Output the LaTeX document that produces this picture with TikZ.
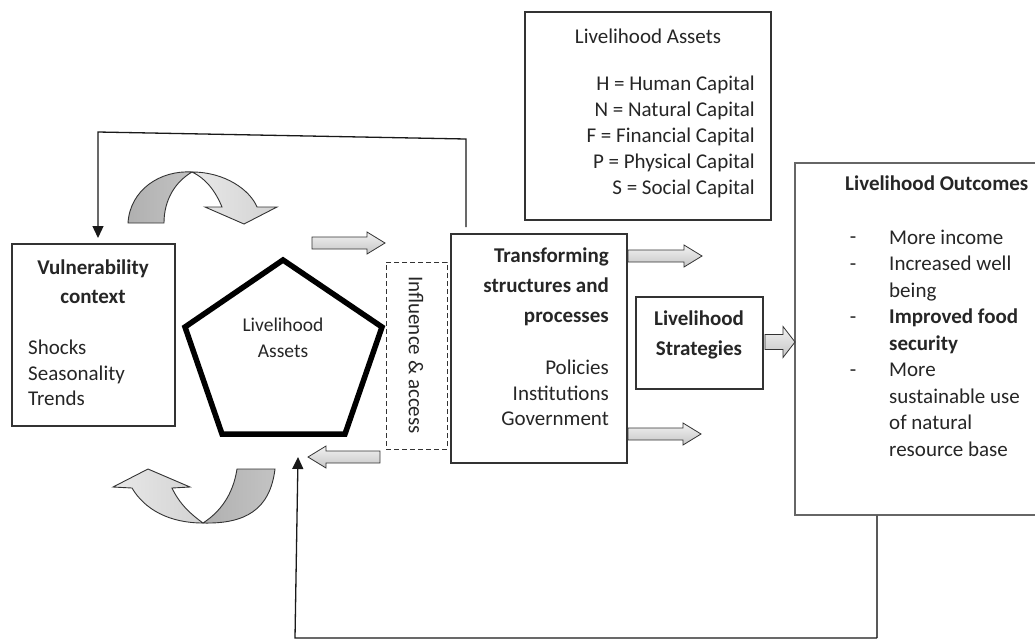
\documentclass[tikz,border=0pt]{standalone}
\usepackage{fontspec}
\setmainfont{Carlito}
\usetikzlibrary{arrows.meta}
\tikzset{
  box/.style={draw=black!80, line width=1.2pt, inner sep=0pt},
  lbl/.style={inner sep=0pt, text=black!85, font=\fontsize{21}{25.5}\selectfont},
  blk/.style={draw=gray!40!black, line width=0.8pt, top color=gray!10, bottom color=gray!45},
  fb/.style={draw=black!90, line width=1.3pt},
  tipA/.style={-{Triangle[length=12pt,width=11pt]}},
  darkpart/.style={draw=black!80, line width=0.9pt, left color=gray!62, right color=gray!47},
  lightpart/.style={draw=black!80, line width=0.9pt, left color=gray!18, right color=gray!35}
}
\newcommand\blkarrow[6]{\draw[blk] (#1,#4-#5) -- (#2,#4-#5) -- (#2,#4-#6) -- (#3,#4) -- (#2,#4+#6) -- (#2,#4+#5) -- (#1,#4+#5) -- cycle;}
\begin{document}
\begin{tikzpicture}[x=1pt,y=-1pt]
\useasboundingbox (0,0) rectangle (1035,641);
\clip (0,0) rectangle (1035,641);
\fill[white] (0,0) rectangle (1035,641);

% boxes
\node[box, minimum width=163pt, minimum height=182pt] (vul) at (93.5,335) {};
\node[box, dashed, line width=0.9pt, dash pattern=on 5pt off 3pt, minimum width=61pt, minimum height=187pt] (ia) at (416.5,355.5) {};
\node[box, minimum width=176pt, minimum height=229pt] (trans) at (539,348.5) {};
\node[box, minimum width=127pt, minimum height=92pt] (strat) at (699.5,343) {};
\node[box, minimum width=246pt, minimum height=208pt] (assets) at (648,116) {};
\node[box, draw=black!60, minimum width=250pt, minimum height=352pt] (outc) at (920,339) {};

% pentagon
\draw[line width=5.5pt, line join=miter, black] (283,260) -- (382,327) -- (345,434) -- (222,434) -- (185,327) -- cycle;
\node[lbl, font=\fontsize{19.5}{26}\selectfont, align=center] (pent) at (283,338) {Livelihood\\Assets};

% vulnerability text
\node[lbl, font=\fontsize{21}{25.5}\selectfont\bfseries, align=center] (vultitle) at (93,282) {Vulnerability\\[3.5pt]context};
\node[lbl, anchor=west, align=left] (vultext) at (28,373) {Shocks\\Seasonality\\Trends};

% influence
\node[lbl, rotate=-90] (iatext) at (416,355) {Influence \& access};

% transforming
\node[lbl, anchor=east, font=\fontsize{21}{25.5}\selectfont\bfseries, align=right] (transtitle) at (609,287) {Transforming\\[4.5pt]structures and\\[4.5pt]processes};
\node[lbl, anchor=east, align=right] (transtext) at (609,393) {Policies\\Institutions\\Government};

% strategies
\node[lbl, font=\fontsize{21}{25.5}\selectfont\bfseries, align=center] (strattext) at (699,335) {Livelihood\\[4.5pt]Strategies};

% assets legend
\node[lbl] (assetstitle) at (648,36) {Livelihood Assets};
\node[lbl, anchor=east, align=right, font=\fontsize{21}{26}\selectfont] (assetstext) at (755,137) {H = Human Capital\\N = Natural Capital\\F = Financial Capital\\P = Physical Capital\\S = Social Capital};

% outcomes
\node[lbl, anchor=west, font=\fontsize{21}{25.5}\selectfont\bfseries] (outctitle) at (845,183) {Livelihood Outcomes};
\node[lbl, anchor=west, align=left, font=\fontsize{21}{26.5}\selectfont] (outctext) at (889,343) {More income\\Increased well\\being\\{\bfseries Improved food}\\{\bfseries security}\\More\\sustainable use\\of natural\\resource base};
\node[lbl] (d1) at (853,240) {-};
\node[lbl] (d2) at (853,267) {-};
\node[lbl] (d3) at (853,320) {-};
\node[lbl] (d4) at (853,373) {-};

% block arrows
\blkarrow{312}{367}{385}{243}{6}{11}
\blkarrow{380}{326}{308}{457}{6}{11}
\blkarrow{628}{684}{702}{256}{6}{11}
\blkarrow{628}{683}{701}{434}{6}{11}
\blkarrow{765}{783}{795}{342}{7.5}{15.5}

% curved arrows (top)
\draw[darkpart] (128,223) .. controls (130,190) and (160,170) .. (192,172) .. controls (175,182) and (164,200) .. (164,223) -- cycle;
\draw[lightpart] (192,172) .. controls (225,172) and (250,190) .. (257,207) -- (277,207) -- (244,224) -- (205,207) -- (222,207) .. controls (215,190) and (205,178) .. (192,172) -- cycle;
% curved arrows (bottom)
\draw[darkpart] (203,523) .. controls (245,524) and (270,510) .. (275,469) -- (237,469) .. controls (233,495) and (220,512) .. (203,523) -- cycle;
\draw[lightpart] (203,523) .. controls (170,523) and (145,510) .. (132,488) -- (113,487) -- (148,469) -- (190,487) -- (172,488) .. controls (180,505) and (192,515) .. (203,523) -- cycle;

% feedback connectors
\coordinate (t0) at (466,227);
\coordinate (t1) at (466,139);
\coordinate (t2) at (98,132);
\coordinate (vtop) at (98,238);
\draw[fb, tipA] (t0) -- (t1) -- (t2) -- (vtop);
\coordinate (b0) at (877,515);
\coordinate (b1) at (877,638);
\coordinate (b2) at (295,638);
\coordinate (ptip) at (298,457);
\draw[fb, draw=black!65] (b0) -- (b1);
\draw[fb, tipA] (b1) -- (b2) -- (ptip);
\end{tikzpicture}
\end{document}
